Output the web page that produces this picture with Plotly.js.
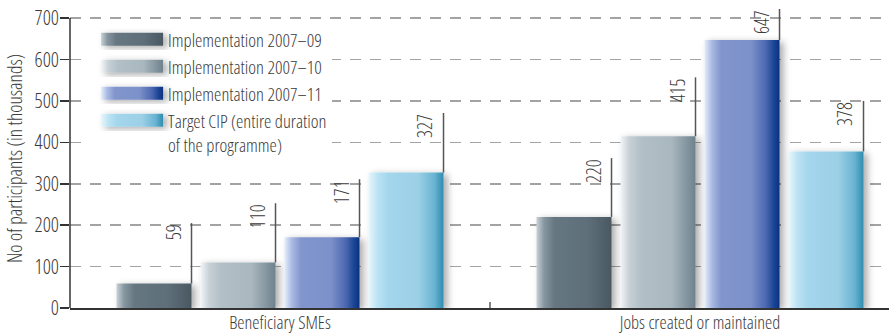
<!DOCTYPE html>
<html>
<head>
<meta charset="utf-8">
<script src="https://cdn.plot.ly/plotly-3.0.1.min.js"></script>
<style>
  html, body { margin: 0; padding: 0; background: #ffffff; }
  #chart { width: 889px; height: 334px; }
</style>
</head>
<body>
<div id="chart"></div>
<script>
// ---- data ----
const categories = ['Beneficiary SMEs', 'Jobs created or maintained'];
const seriesNames = [
  'Implementation 2007–09',
  'Implementation 2007–10',
  'Implementation 2007–11',
  'Target CIP (entire duration<br>of the programme)'
];
const impl0709 = [59, 220];
const impl0710 = [110, 415];
const impl0711 = [171, 647];
const targetCIP = [327, 378];
const yTickValues = [0, 100, 200, 300, 400, 500, 600, 700];

// ---- styling ----
const seriesValues = [impl0709, impl0710, impl0711, targetCIP];
// height (in axis units) reached by the leader line above each bar
const leaderTops = [[205, 362], [253, 557], [311, 722], [471, 500]];
const baseColors = ['#64757f', '#b0bdc5', '#7f93cc', '#a2d5ec'];
const gradientStops = [
  [[0, '#c8d1d7'], [0.10, '#8797a1'], [0.24, '#667782'], [0.70, '#5d6e79'], [1, '#4a5861']],
  [[0, '#f2f5f7'], [0.12, '#c6d0d6'], [0.28, '#b2bfc7'], [0.68, '#a9b7bf'], [1, '#6e828d']],
  [[0, '#e4eefa'], [0.10, '#a9b9e2'], [0.22, '#8296cd'], [0.62, '#7c91ca'], [0.82, '#4c67b0'], [0.92, '#1c4796'], [1, '#0a3282']],
  [[0, '#e8f6fc'], [0.12, '#bce3f3'], [0.26, '#a4d6ec'], [0.66, '#9cd0e7'], [0.88, '#68b3d2'], [1, '#2f8cad']]
];
const TEXT_COLOR = '#3b3b3b';
const bargap = 0.2, bargroupgap = 0.107;

// A condensed face reads best here; use a width-variable family when one is present.
function condensedFamily() {
  const candidates = ['Open Sans', 'Roboto', 'Noto Sans'];
  for (const fam of candidates) {
    const probe = document.createElement('span');
    probe.textContent = 'Implementation 2007–09 of the programme';
    probe.style.cssText = "position:absolute;left:-9999px;top:0;white-space:nowrap;font-size:40px;font-family:'" + fam + "'";
    document.body.appendChild(probe);
    const wide = probe.getBoundingClientRect().width;
    probe.style.fontStretch = '75%';
    const narrow = probe.getBoundingClientRect().width;
    probe.remove();
    if (narrow < wide * 0.93) return fam;
  }
  return null;
}
const condensed = condensedFamily();
let FONT, SIZES;
if (condensed) {
  const st = document.createElement('style');
  st.textContent = 'svg text { font-stretch: 75%; }';
  document.head.appendChild(st);
  FONT = "'" + condensed + "', sans-serif";
  SIZES = { tick: 20, legend: 18.5, title: 19.5, value: 19.5, category: 18.3 };
} else {
  FONT = "'DejaVu Sans Condensed', 'DejaVu Sans', sans-serif";
  SIZES = { tick: 17, legend: 13.6, title: 15, value: 15, category: 13.2 };
}

const traces = seriesValues.map((vals, i) => ({
  type: 'bar',
  name: seriesNames[i],
  x: [0, 1],
  y: vals,
  marker: { color: baseColors[i], line: { width: 0 } },
  hoverinfo: 'skip'
}));

// horizontal geometry of grouped bars, in category units
const nSeries = seriesValues.length;
const slot = (1 - bargap) / nSeries;
const halfBar = slot * (1 - bargroupgap) / 2;
const barRight = (cat, k) => cat + (k - (nSeries - 1) / 2) * slot + halfBar;

const shapes = [];
const annotations = [];
seriesValues.forEach((vals, k) => {
  vals.forEach((v, c) => {
    const xr = barRight(c, k);
    shapes.push({
      type: 'line', xref: 'x', yref: 'y', layer: 'above',
      x0: xr, x1: xr, y0: v, y1: leaderTops[k][c],
      line: { color: '#555555', width: 1.5 }
    });
    annotations.push({
      xref: 'x', yref: 'y', x: xr, y: leaderTops[k][c],
      text: String(v), textangle: -90, showarrow: false,
      xanchor: 'right', yanchor: 'top', xshift: -3, yshift: 1,
      font: { family: FONT, size: SIZES.value, color: TEXT_COLOR, weight: 300 }
    });
  });
});
// left axis line, ending at the top gridline
shapes.push({
  type: 'line', xref: 'paper', yref: 'y', x0: 0, x1: 0, y0: 0, y1: 700,
  line: { color: '#333333', width: 1.5 }, layer: 'above'
});
// small upward tick on the boundary between the two groups
shapes.push({
  type: 'line', xref: 'x', yref: 'paper', x0: 0.5, x1: 0.5, y0: 0, y1: 0.02,
  line: { color: '#333333', width: 1.2 }
});

const layout = {
  width: 889, height: 334,
  margin: { l: 70, r: 0, t: 9, b: 26 },
  paper_bgcolor: '#ffffff', plot_bgcolor: '#ffffff',
  font: { family: FONT, size: 17, color: TEXT_COLOR, weight: 300 },
  barmode: 'group', bargap: bargap, bargroupgap: bargroupgap,
  showlegend: true,
  legend: {
    x: 0.016, y: 0.96, xanchor: 'left', yanchor: 'top',
    bgcolor: '#ffffff', borderwidth: 0,
    font: { family: FONT, size: SIZES.legend, color: TEXT_COLOR, weight: 300 },
    itemwidth: 75, valign: 'top', traceorder: 'normal'
  },
  xaxis: {
    type: 'linear', range: [-0.5, 1.45],
    tickmode: 'array', tickvals: [0, 1], ticktext: categories,
    showgrid: false, zeroline: false,
    showline: true, linecolor: '#333333', linewidth: 1.5,
    ticks: '', ticklabelstandoff: -2,
    tickfont: { family: FONT, size: SIZES.category, color: TEXT_COLOR, weight: 300 }
  },
  yaxis: {
    range: [0, 722], tickmode: 'array', tickvals: yTickValues,
    showline: false, zeroline: false,
    ticks: 'outside', ticklen: 9, tickwidth: 1.5, tickcolor: '#333333',
    ticklabelstandoff: -3,
    showgrid: true, gridcolor: '#a3a3a3', gridwidth: 1.5, griddash: '11px,9px',
    tickfont: { family: FONT, size: SIZES.tick, color: TEXT_COLOR, weight: 300 },
    title: { text: 'No of participants (in thousands)', font: { family: FONT, size: SIZES.title, color: TEXT_COLOR, weight: 300 }, standoff: 6 }
  },
  shapes: shapes,
  annotations: annotations
};

const gd = document.getElementById('chart');
Plotly.newPlot(gd, traces, layout, { staticPlot: true, displayModeBar: false }).then(decorate);

// gradient fills and soft shadows for bars and legend swatches
function decorate(gd) {
  const NS = 'http://www.w3.org/2000/svg';
  const svg = gd.querySelector('svg.main-svg');
  let defs = svg.querySelector('defs');
  if (!defs) { defs = document.createElementNS(NS, 'defs'); svg.insertBefore(defs, svg.firstChild); }

  gradientStops.forEach((stops, i) => {
    const lg = document.createElementNS(NS, 'linearGradient');
    lg.setAttribute('id', 'barGrad' + i);
    lg.setAttribute('x1', '0'); lg.setAttribute('y1', '0');
    lg.setAttribute('x2', '1'); lg.setAttribute('y2', '0');
    stops.forEach(([o, c]) => {
      const s = document.createElementNS(NS, 'stop');
      s.setAttribute('offset', o);
      s.setAttribute('stop-color', c);
      lg.appendChild(s);
    });
    defs.appendChild(lg);
  });

  const filter = document.createElementNS(NS, 'filter');
  filter.setAttribute('id', 'barShadow');
  filter.setAttribute('x', '-30%'); filter.setAttribute('y', '-30%');
  filter.setAttribute('width', '160%'); filter.setAttribute('height', '160%');
  const ds = document.createElementNS(NS, 'feDropShadow');
  ds.setAttribute('dx', '4'); ds.setAttribute('dy', '2');
  ds.setAttribute('stdDeviation', '3.5');
  ds.setAttribute('flood-color', '#000000'); ds.setAttribute('flood-opacity', '0.33');
  filter.appendChild(ds);
  defs.appendChild(filter);

  gd.querySelectorAll('.barlayer .trace.bars').forEach((tr, i) => {
    tr.querySelectorAll('path').forEach(p => {
      p.style.fill = 'url(#barGrad' + i + ')';
      p.setAttribute('filter', 'url(#barShadow)');
    });
  });

  gd.querySelectorAll('.legend .traces').forEach((item, i) => {
    const text = item.querySelector('.legendtext');
    const path = item.querySelector('.legendpoints path');
    if (!text || !path) return;
    const firstLine = text.querySelector('tspan.line') || text;
    const tr = text.getBoundingClientRect();
    const lr = firstLine.getBoundingClientRect();
    path.removeAttribute('transform');
    const m = path.getScreenCTM();
    const cy = lr.top + lr.height / 2;
    const x1 = (tr.left - 5 - m.e) / m.a;
    const x0 = (tr.left - 5 - 62 - m.e) / m.a;
    const y0 = (cy - 6.5 - m.f) / m.d;
    const y1 = (cy + 6.5 - m.f) / m.d;
    path.setAttribute('d', `M${x0},${y0}H${x1}V${y1}H${x0}Z`);
    path.style.fill = 'url(#barGrad' + i + ')';
    path.style.stroke = 'none';
    path.setAttribute('filter', 'url(#barShadow)');
  });
}
</script>
</body>
</html>
